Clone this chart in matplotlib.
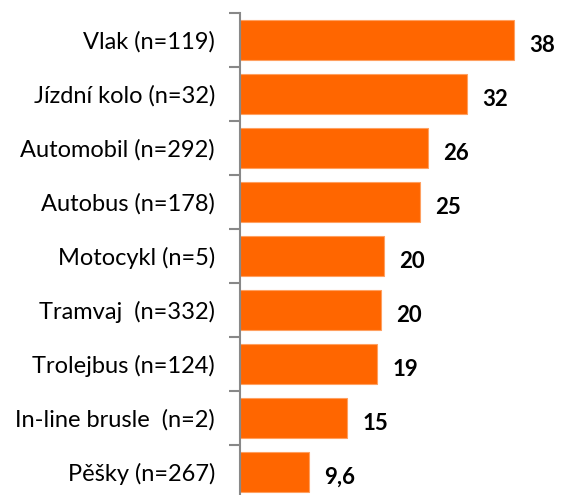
import numpy as np
import matplotlib.pyplot as plt
from matplotlib.ticker import FixedLocator

categories = ['Vlak (n=119)', 'Jízdní kolo (n=32)', 'Automobil (n=292)', 'Autobus (n=178)',
              'Motocykl (n=5)', 'Tramvaj  (n=332)', 'Trolejbus (n=124)', 'In-line brusle  (n=2)',
              'Pěšky (n=267)']
values = [38, 31.5, 26, 24.9, 19.9, 19.6, 19, 14.9, 9.6]
value_labels = ['38', '32', '26', '25', '20', '20', '19', '15', '9,6']

plt.rcParams['font.family'] = ['Lato', 'DejaVu Sans']

fig = plt.figure(figsize=(5.61, 4.95), dpi=100)
ax = fig.add_axes([240 / 561, -4 / 495, 300 / 561, 486 / 495])

y = np.arange(len(categories))
ax.barh(y, values, height=0.74, color='#FF6600', edgecolor='#FFA060', linewidth=0.8)

for yi, v, lab in zip(y, values, value_labels):
    ax.text(v + 2.1, yi + 0.1, lab, va='center', ha='left', fontsize=16, fontweight='bold')

ax.set_ylim(len(categories) - 0.5, -0.5)
ax.set_xlim(0, 41.6)
ax.set_yticks(y)
ax.set_yticklabels(categories, fontsize=17)
ax.yaxis.set_minor_locator(FixedLocator(np.arange(-0.5, len(categories), 1)))
ax.tick_params(axis='y', which='major', length=0, pad=18)
ax.tick_params(axis='y', which='minor', length=8, width=1.5, color='#888888')
ax.set_xticks([])
for s in ['top', 'right', 'bottom']:
    ax.spines[s].set_visible(False)
ax.spines['left'].set_color('#888888')
ax.spines['left'].set_linewidth(1.5)

fig.savefig('out.png', dpi=100)
